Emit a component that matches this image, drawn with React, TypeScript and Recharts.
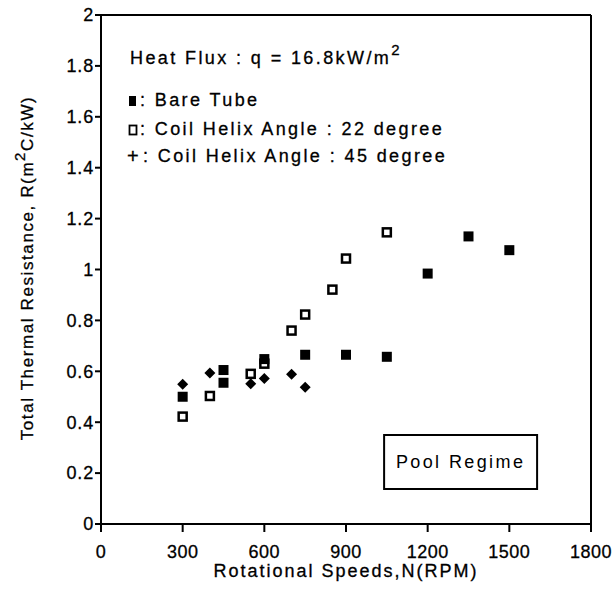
import {
  ScatterChart,
  Scatter,
  XAxis,
  YAxis,
  ReferenceLine,
  ReferenceArea,
} from "recharts";

const bareRpm = [300, 450, 450, 600, 750, 900, 1050, 1200, 1350, 1500];
const bareR = [0.5, 0.605, 0.555, 0.648, 0.665, 0.665, 0.657, 0.984, 1.13, 1.076];

const coil22Rpm = [300, 400, 550, 600, 700, 750, 850, 900, 1050];
const coil22R = [0.422, 0.503, 0.59, 0.63, 0.76, 0.823, 0.921, 1.043, 1.146];

const coil45Rpm = [300, 400, 550, 600, 700, 750];
const coil45R = [0.549, 0.593, 0.551, 0.572, 0.588, 0.537];

const rpmTicks = [0, 300, 600, 900, 1200, 1500, 1800];
const resistanceTicks = [0, 0.2, 0.4, 0.6, 0.8, 1, 1.2, 1.4, 1.6, 1.8, 2];

const FONT = "'Liberation Sans', Arial, Helvetica, sans-serif";

const toPoints = (xs: number[], ys: number[]) =>
  xs.map((x, i) => ({ x, y: ys[i] }));

const FilledSquare = (p: any) => (
  <rect x={p.cx - 5} y={p.cy - 5} width={10} height={10} fill="#000" />
);

const OpenSquare = (p: any) => (
  <rect
    x={p.cx - 4}
    y={p.cy - 4}
    width={8}
    height={8}
    fill="#fff"
    stroke="#000"
    strokeWidth={2.5}
  />
);

const Diamond = (p: any) => (
  <path
    d={`M${p.cx},${p.cy - 5.5} L${p.cx + 5.5},${p.cy} L${p.cx},${p.cy + 5.5} L${p.cx - 5.5},${p.cy} Z`}
    fill="#000"
  />
);

function Annotations() {
  const txt = {
    fontFamily: FONT,
    fontSize: 18,
    letterSpacing: 2.4,
    fill: "#000",
    stroke: "#000",
    strokeWidth: 0.3,
  };
  return (
    <svg
      width={615}
      height={593}
      style={{ position: "absolute", left: 0, top: 0, pointerEvents: "none" }}
    >
      <text x={130} y={64} {...txt}>
        Heat Flux : q = 16.8kW/m
        <tspan dy={-9} fontSize={15}>2</tspan>
      </text>

      <rect x={129} y={96} width={7} height={10} fill="#000" />
      <text x={140} y={106} {...txt}>: Bare Tube</text>

      <rect x={129.5} y={125.5} width={7} height={9} fill="none" stroke="#000" strokeWidth={1.8} />
      <text x={140} y={135} {...txt}>: Coil Helix Angle : 22 degree</text>

      <text x={127} y={163} {...txt} fontSize={20} letterSpacing={0}>+</text>
      <text x={143} y={162} {...txt}>: Coil Helix Angle : 45 degree</text>

      <text
        x={33}
        y={268}
        transform="rotate(-90 33 268)"
        textAnchor="middle"
        {...txt}
        fontSize={17}
        letterSpacing={1.6}
      >
        Total Thermal Resistance, R(m
        <tspan dy={-8} fontSize={15}>2</tspan>
        <tspan dy={8}>C/kW)</tspan>
      </text>

      <text x={346} y={577} textAnchor="middle" {...txt} letterSpacing={2}>
        Rotational Speeds,N(RPM)
      </text>
    </svg>
  );
}

export default function App() {
  return (
    <div style={{ position: "absolute", left: 0, top: 0, width: 615, height: 593, background: "#fff" }}>
      <ScatterChart
        width={615}
        height={593}
        margin={{ top: 15, right: 24, bottom: 0, left: 0 }}
      >
        <XAxis
          type="number"
          dataKey="x"
          domain={[0, 1800]}
          ticks={rpmTicks}
          height={69}
          tickSize={8}
          tickMargin={13}
          axisLine={{ stroke: "#000", strokeWidth: 2 }}
          tickLine={{ stroke: "#000", strokeWidth: 2 }}
          tick={{ fill: "#000", fontSize: 18, fontFamily: FONT, letterSpacing: 0.5, stroke: "#000", strokeWidth: 0.3 }}
          interval={0}
        />
        <YAxis
          type="number"
          dataKey="y"
          domain={[0, 2]}
          ticks={resistanceTicks}
          width={101}
          tickSize={6}
          tickMargin={1}
          axisLine={{ stroke: "#000", strokeWidth: 2 }}
          tickLine={{ stroke: "#000", strokeWidth: 2 }}
          tick={{ fill: "#000", fontSize: 18, fontFamily: FONT, letterSpacing: 0.8, stroke: "#000", strokeWidth: 0.3 }}
          interval={0}
        />
        <ReferenceLine y={2} stroke="#000" strokeWidth={2} />
        <ReferenceLine x={1800} stroke="#000" strokeWidth={2} />
        <ReferenceArea
          x1={1040}
          x2={1602}
          y1={0.138}
          y2={0.35}
          fill="#fff"
          fillOpacity={1}
          stroke="#000"
          strokeWidth={2}
          label={{
            value: "Pool Regime",
            position: "center",
            fill: "#000",
            fontSize: 18,
            fontFamily: FONT,
            letterSpacing: 2.4,
          }}
        />
        <Scatter
          name="Coil Helix Angle : 22 degree"
          data={toPoints(coil22Rpm, coil22R)}
          shape={OpenSquare}
          isAnimationActive={false}
        />
        <Scatter
          name="Coil Helix Angle : 45 degree"
          data={toPoints(coil45Rpm, coil45R)}
          shape={Diamond}
          isAnimationActive={false}
        />
        <Scatter
          name="Bare Tube"
          data={toPoints(bareRpm, bareR)}
          shape={FilledSquare}
          isAnimationActive={false}
        />
      </ScatterChart>
      <Annotations />
    </div>
  );
}
